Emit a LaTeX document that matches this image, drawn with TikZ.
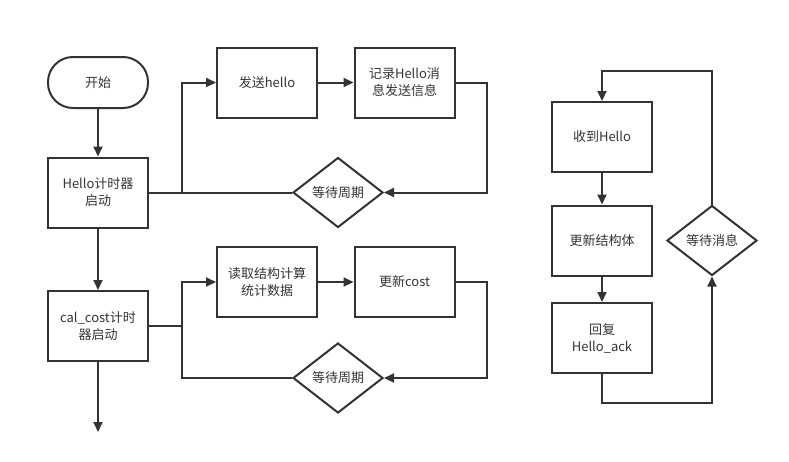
\documentclass[tikz,border=0pt]{standalone}
\usepackage{fontspec}
\setmainfont{Noto Sans CJK SC}
\usepackage{tikz}
\usetikzlibrary{shapes.geometric,arrows.meta,positioning}
\definecolor{ink}{HTML}{333333}

\begin{document}
\begin{tikzpicture}[
    x=1pt,y=-1pt,
    box/.style={draw=ink,line width=2pt,minimum width=100pt,minimum height=70pt,
                align=center,text=ink,font=\fontsize{13}{17}\selectfont},
    startbox/.style={box,minimum height=51pt,rounded corners=25pt},
    decision/.style={diamond,draw=ink,line width=2pt,minimum width=90pt,minimum height=70pt,
                inner sep=0pt,text=ink,font=\fontsize{13}{17}\selectfont},
    line/.style={draw=ink,line width=2pt},
    arrow/.style={line,-{Triangle[length=10pt,width=9pt]}}
  ]
    \useasboundingbox (0,0) rectangle (789,461);

    % left column
    \node[startbox] (start)      at (98,82.5)  {开始};
    \node[box]      (hellotimer) at (98,192.5) {Hello计时器\\启动};
    \node[box]      (costtimer)  at (98,326)   {cal\_cost计时\\器启动};
    \coordinate (exit) at (98,432);

    % hello loop
    \node[box]      (sendhello)   at (267,82.5)  {发送hello};
    \node[box]      (recordhello) at (404.5,82.5) {记录Hello消\\息发送信息};
    \node[decision] (waitA)       at (338,192.5) {等待周期};
    \coordinate (forkA) at (182,192.5);

    % cost loop
    \node[box]      (readstat)   at (267,282)   {读取结构计算\\统计数据};
    \node[box]      (updatecost) at (404.5,282) {更新cost};
    \node[decision] (waitB)      at (338,378)   {等待周期};
    \coordinate (forkB) at (182,326);

    % receiver
    \node[box]      (recvhello)    at (602,137)   {收到Hello};
    \node[box]      (updatestruct) at (602,240.5) {更新结构体};
    \node[box]      (replyack)     at (602,338)   {回复\\Hello\_ack};
    \node[decision] (waitmsg)      at (712,240.5) {等待消息};

    \draw[arrow] (start) -- (hellotimer);
    \draw[arrow] (hellotimer) -- (costtimer);
    \draw[arrow] (costtimer) -- (exit);

    \draw[line]  (hellotimer.east) -- (waitA.west);
    \draw[arrow] (forkA) |- (sendhello);
    \draw[arrow] (sendhello) -- (recordhello);
    \draw[arrow] (recordhello.east) -- ++(31,0) |- (waitA.east);

    \draw[line]  (costtimer.east) -- (forkB);
    \draw[arrow] (forkB) |- (readstat);
    \draw[line]  (forkB) |- (waitB.west);
    \draw[arrow] (readstat) -- (updatecost);
    \draw[arrow] (updatecost.east) -- ++(31,0) |- (waitB.east);

    \draw[arrow] (recvhello) -- (updatestruct);
    \draw[arrow] (updatestruct) -- (replyack);
    \draw[arrow] (replyack.south) -- ++(0,29) -| (waitmsg.south);
    \draw[arrow] (waitmsg.north) -- ++(0,-134) -| (recvhello.north);
  \end{tikzpicture}
\end{document}
